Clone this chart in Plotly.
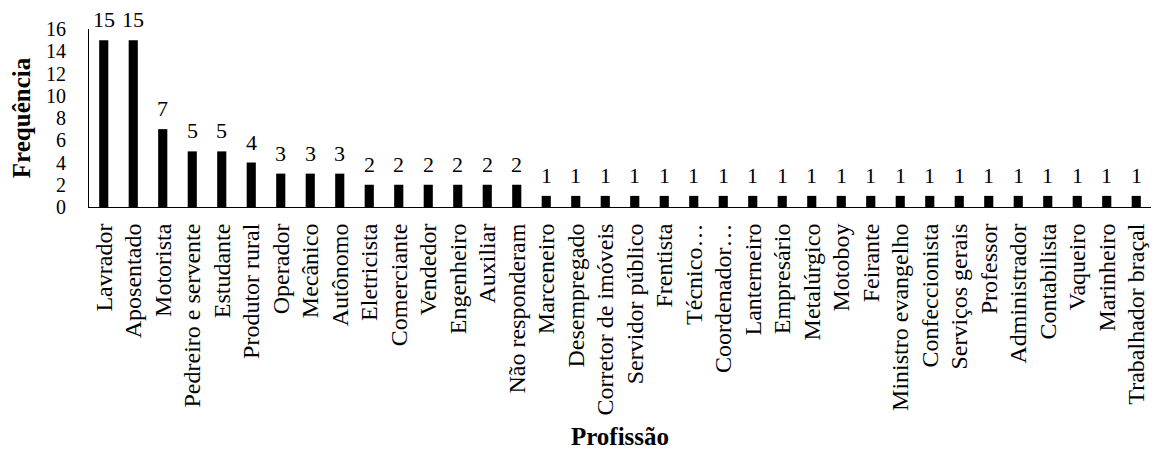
import plotly.graph_objects as go

categories = ["Lavrador", "Aposentado", "Motorista", "Pedreiro e servente", "Estudante",
              "Produtor rural", "Operador", "Mecânico", "Autônomo", "Eletricista",
              "Comerciante", "Vendedor", "Engenheiro", "Auxiliar", "Não responderam",
              "Marceneiro", "Desempregado", "Corretor de imóveis", "Servidor público",
              "Frentista", "Técnico…", "Coordenador…", "Lanterneiro", "Empresário",
              "Metalúrgico", "Motoboy", "Feirante", "Ministro evangelho", "Confeccionista",
              "Serviços gerais", "Professor", "Administrador", "Contabilista", "Vaqueiro",
              "Marinheiro", "Trabalhador braçal"]
values = [15, 15, 7, 5, 5, 4, 3, 3, 3, 2, 2, 2, 2, 2, 2,
          1, 1, 1, 1, 1, 1, 1, 1, 1, 1, 1, 1, 1, 1, 1, 1, 1, 1, 1, 1, 1]
y_ticks = [0, 2, 4, 6, 8, 10, 12, 14, 16]

FONT = "Liberation Serif"

fig = go.Figure(go.Bar(
    x=categories, y=values,
    marker=dict(color="black", line=dict(width=0)),
))

for c, v in zip(categories, values):
    fig.add_annotation(x=c, y=v, text=str(v), showarrow=False,
                       yanchor="bottom", yshift=6,
                       font=dict(family=FONT, size=22, color="black"))

fig.update_layout(
    width=1157, height=450,
    margin=dict(l=89, r=6, t=29, b=243),
    plot_bgcolor="white", paper_bgcolor="white",
    bargap=0.69,
    showlegend=False,
    font=dict(family=FONT, color="black"),
)
fig.update_xaxes(
    tickangle=-90, tickfont=dict(family=FONT, size=24, color="black"),
    showline=True, linecolor="black", linewidth=1, ticks="",
    ticklabelstandoff=6,
    title=dict(text="<b>Profissão</b>", font=dict(family=FONT, size=25, color="black"), standoff=14),
    automargin=False,
)
fig.update_yaxes(
    range=[0, 16], tickvals=y_ticks, ticktext=[str(t) for t in y_ticks],
    tickfont=dict(family=FONT, size=20, color="black"),
    showline=True, linecolor="black", linewidth=1, showgrid=False, ticks="",
    zeroline=False, ticklabelstandoff=18,
    title=dict(text="<b>Frequência</b>", font=dict(family=FONT, size=25, color="black"), standoff=8),
    automargin=False,
)

fig.write_html("out.html")
